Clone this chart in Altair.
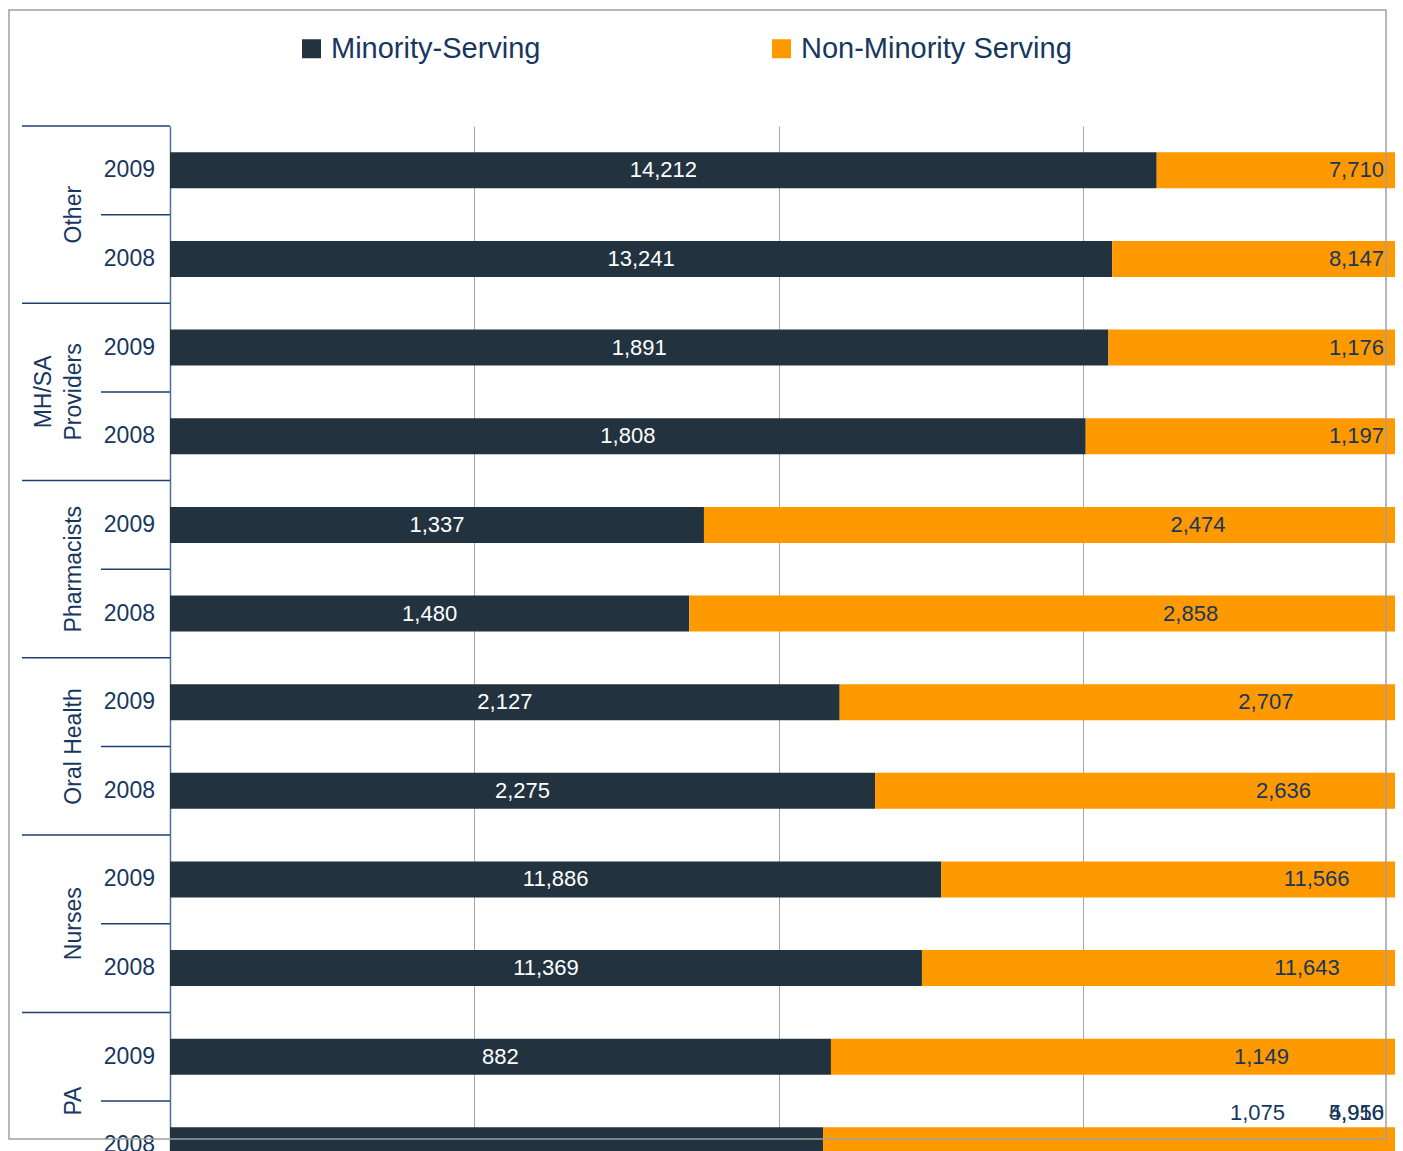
import altair as alt
import pandas as pd

# ---------------- data ----------------
categories = ["Other", "MH/SA Providers", "Pharmacists", "Oral Health", "Nurses", "PA", "Physicians"]
category_lines = [["Other"], ["MH/SA", "Providers"], ["Pharmacists"], ["Oral Health"],
                  ["Nurses"], ["PA"], ["Physicians"]]
years = ["2009", "2008"]
series_names = ["Minority-Serving", "Non-Minority Serving"]
minority_serving = [[14212, 13241], [1891, 1808], [1337, 1480], [2127, 2275],
                    [11886, 11369], [882, 808], [9800, 10500]]
non_minority_serving = [[7710, 8147], [1176, 1197], [2474, 2858], [2707, 2636],
                        [11566, 11643], [1149, 1075], [4950, 5916]]
grid_values = [0.2, 0.4, 0.6]

# ---------------- style ----------------
FONT = "Liberation Sans, Arial, sans-serif"
NAVY = "#17375E"
DARK = "#22333F"
ORANGE = "#FF9900"
GRID = "#A6A6A6"
LINE = "#1F3F6F"

PLOT_W = 1225
PLOT_H = 1025
PX_PER_UNIT = 1522.0            # pixels for a 100 % share
X_MAX = PLOT_W / PX_PER_UNIT    # visible part of the 0..1 share axis
ROW_STEP = 88.64
ROW_MAX = -0.5 + PLOT_H / ROW_STEP
LABEL_LIMIT = 0.7976            # labels are kept inside the frame
LABEL_ROW_LIMIT = 10.63

records = []
for ci, cat in enumerate(categories):
    for yi, yr in enumerate(years):
        row = ci * 2 + yi
        records.append(dict(category=cat, year=yr, row=row, series=series_names[0],
                            order=0, value=minority_serving[ci][yi]))
        records.append(dict(category=cat, year=yr, row=row, series=series_names[1],
                            order=1, value=non_minority_serving[ci][yi]))
df = pd.DataFrame(records)

rows_df = pd.DataFrame([dict(row=ci * 2 + yi, year=yr)
                        for ci in range(len(categories)) for yi, yr in enumerate(years)])
groups_df = pd.DataFrame([dict(category=c, lines=category_lines[ci],
                               nlines=len(category_lines[ci]),
                               mid=ci * 2 + 0.5, sep=ci * 2 - 0.5)
                          for ci, c in enumerate(categories)])
year_sep_df = pd.DataFrame([dict(sep=ci * 2 + 0.5) for ci in range(len(categories))])

xscale = alt.Scale(domain=[0, X_MAX], nice=False, zero=False, padding=0)
yscale = alt.Scale(domain=[-0.5, ROW_MAX], nice=False, zero=False, reverse=True, padding=0)
xaxis = alt.Axis(values=grid_values, labels=False, ticks=False,
                 domain=False, grid=True, gridColor=GRID, gridWidth=1, title=None)
yaxis = alt.Axis(labels=False, ticks=False, grid=False, domain=True,
                 domainColor="#4F6F96", domainWidth=1.5, title=None)

stacked = alt.Chart(df).transform_stack(
    stack="value", groupby=["row"], as_=["v0", "v1"], offset="normalize",
    sort=[alt.SortField("order", order="ascending")]
)

bars = stacked.mark_bar(size=36, clip=True).encode(
    x=alt.X("v0:Q", scale=xscale, axis=xaxis),
    x2="v1:Q",
    y=alt.Y("row:Q", scale=yscale, axis=yaxis),
    color=alt.Color("series:N",
                    scale=alt.Scale(domain=series_names, range=[DARK, ORANGE]),
                    legend=alt.Legend(orient="none", legendX=127, legendY=-92,
                                      direction="horizontal", title=None,
                                      symbolType="square", symbolSize=361,
                                      symbolStrokeWidth=0, symbolOpacity=1,
                                      labelFontSize=29, labelFont=FONT,
                                      labelColor=NAVY, labelOffset=5,
                                      columnPadding=226, padding=0, labelLimit=500)),
)

labels_base = stacked.transform_calculate(
    mid="(datum.v0 + datum.v1) / 2",
    label="format(datum.value, ',')",
    ly=f"min(datum.row, {LABEL_ROW_LIMIT})",
).transform_calculate(
    right=f"datum.mid + length(datum.label) * 6 / {PX_PER_UNIT}",
    lx=f"{LABEL_LIMIT}",
)

label_color = alt.condition(f"datum.series == '{series_names[0]}'",
                            alt.value("white"), alt.value(NAVY))

labels_center = labels_base.transform_filter(f"datum.right <= {LABEL_LIMIT}").mark_text(
    font=FONT, fontSize=22, align="center", baseline="middle"
).encode(
    x=alt.X("mid:Q", scale=xscale, axis=xaxis),
    y=alt.Y("ly:Q", scale=yscale, axis=yaxis),
    text="label:N",
    color=label_color,
)

labels_right = labels_base.transform_filter(f"datum.right > {LABEL_LIMIT}").mark_text(
    font=FONT, fontSize=22, align="right", baseline="middle"
).encode(
    x=alt.X("lx:Q", scale=xscale, axis=xaxis),
    y=alt.Y("ly:Q", scale=yscale, axis=yaxis),
    text="label:N",
    color=label_color,
)

year_labels = alt.Chart(rows_df).mark_text(
    font=FONT, fontSize=23, align="right", baseline="middle", color=NAVY
).encode(
    x=alt.value(-15),
    y=alt.Y("row:Q", scale=yscale, axis=yaxis),
    text="year:N",
)

group_seps = alt.Chart(groups_df).mark_rule(color=LINE, strokeWidth=1.5).encode(
    x=alt.value(-148), x2=alt.value(0),
    y=alt.Y("sep:Q", scale=yscale, axis=yaxis),
)

year_seps = alt.Chart(year_sep_df).mark_rule(color=LINE, strokeWidth=1.5).encode(
    x=alt.value(-69), x2=alt.value(0),
    y=alt.Y("sep:Q", scale=yscale, axis=yaxis),
)

group_labels_1 = alt.Chart(groups_df).transform_filter("datum.nlines == 1").mark_text(
    font=FONT, fontSize=23, angle=270, align="center", baseline="bottom",
    lineHeight=30, color=NAVY
).encode(
    x=alt.value(-84),
    y=alt.Y("mid:Q", scale=yscale, axis=yaxis),
    text="lines:N",
)

group_labels_2 = alt.Chart(groups_df).transform_filter("datum.nlines == 2").mark_text(
    font=FONT, fontSize=23, angle=270, align="center", baseline="bottom",
    lineHeight=30, color=NAVY
).encode(
    x=alt.value(-114),
    y=alt.Y("mid:Q", scale=yscale, axis=yaxis),
    text="lines:N",
)

frame = alt.Chart(pd.DataFrame({"frame": [0]})).mark_rect(
    fillOpacity=0, stroke="#A0A0A0", strokeWidth=1.5
).encode(
    x=alt.value(-161), x2=alt.value(1216),
    y=alt.value(-116), y2=alt.value(1013),
)

chart = alt.layer(
    bars, labels_center, labels_right, year_labels, group_seps, year_seps,
    group_labels_1, group_labels_2, frame
).properties(
    width=PLOT_W, height=PLOT_H,
    autosize=alt.AutoSizeParams(type="none"),
    padding={"left": 162, "top": 118, "right": 0, "bottom": 0},
    background="white",
).configure_view(strokeOpacity=0)

chart.save("out.html", embed_options={"renderer": "svg", "actions": False})
